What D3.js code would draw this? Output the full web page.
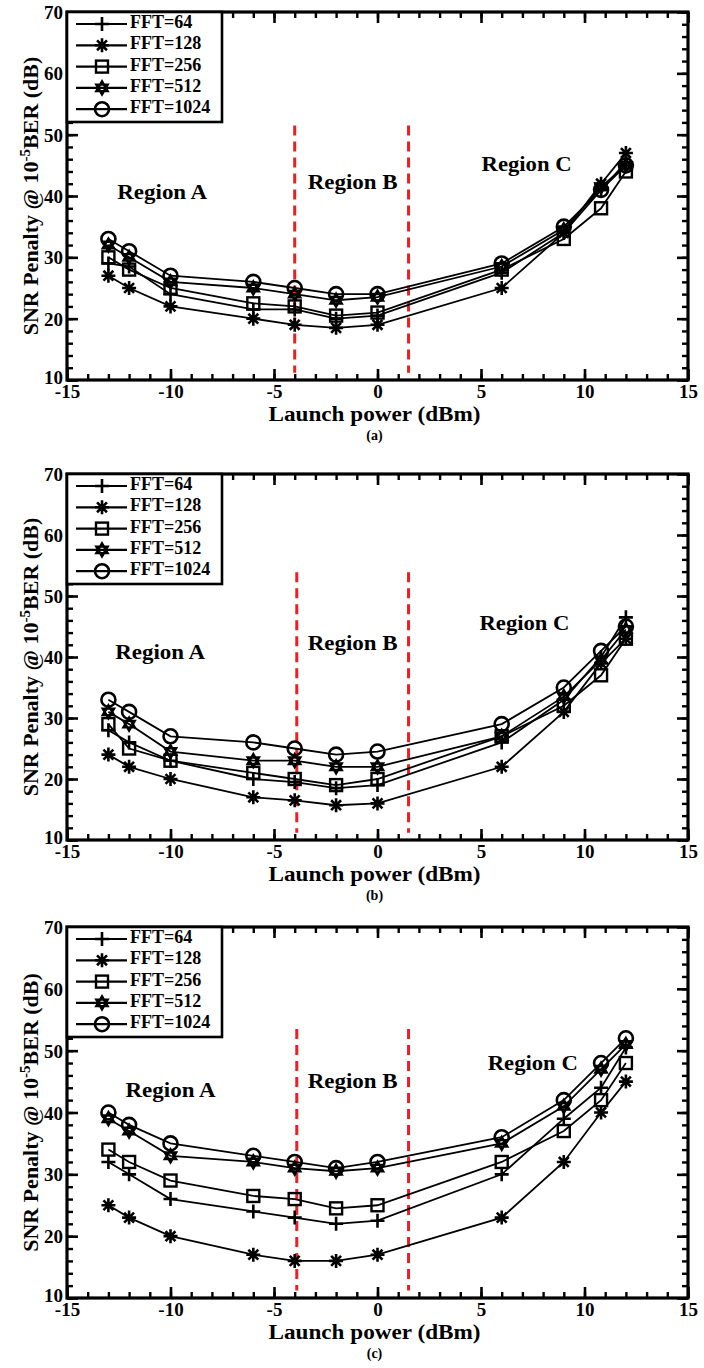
<!DOCTYPE html>
<html lang="en">
<head>
<meta charset="UTF-8">
<title>SNR penalty vs launch power</title>
<script src="https://cdn.jsdelivr.net/npm/d3@7"></script>
<style>
  body { margin: 0; background: #fff; }
  text { font-family: "Liberation Serif", "Times New Roman", serif; font-weight: bold; }
</style>
</head>
<body>
<div id="chart"></div>
<script>
// launch power points (dBm)
const xVals = [-13, -12, -10, -6, -4, -2, 0, 6, 9, 10.8, 12];
const seriesNames = ["FFT=64", "FFT=128", "FFT=256", "FFT=512", "FFT=1024"];
const xTicks = [-15, -10, -5, 0, 5, 10, 15];
const yTicks = [10, 20, 30, 40, 50, 60, 70];

// panel (a)
const a64   = [29, 28.5, 24, 21.5, 21.5, 20, 20.5, 27.5, 34, 41, 45.5];
const a128  = [27, 25, 22, 20, 19, 18.5, 19, 25, 34, 42, 47];
const a256  = [30, 28, 25, 22.5, 22, 20.5, 21, 28, 33, 38, 44];
const a512  = [32, 30, 26, 25, 24, 23, 23.5, 28.5, 34.5, 41.5, 45];
const a1024 = [33, 31, 27, 26, 25, 24, 24, 29, 35, 41, 45];
// panel (b)
const b64   = [28, 26, 23, 20, 19.5, 18.5, 19, 26, 33, 40, 46.5];
const b128  = [24, 22, 20, 17, 16.5, 15.7, 16, 22, 31, 39, 43];
const b256  = [29, 25, 23, 21, 20, 19, 20, 27, 32, 37, 43];
const b512  = [31, 29, 24.5, 23, 23, 22, 22, 27, 33.5, 39.5, 44.5];
const b1024 = [33, 31, 27, 26, 25, 24, 24.5, 29, 35, 41, 45];
// panel (c)
const c64   = [32, 30, 26, 24, 23, 22, 22.5, 30, 39, 44, 50.5];
const c128  = [25, 23, 20, 17, 16, 16, 17, 23, 32, 40, 45];
const c256  = [34, 32, 29, 26.5, 26, 24.5, 25, 32, 37, 42, 48];
const c512  = [39, 37, 33, 32, 31, 30.5, 31, 35, 41, 47, 51];
const c1024 = [40, 38, 35, 33, 32, 31, 32, 36, 42, 48, 52];

// region boundaries (dBm)
const boundsA = [-4, 1.5], boundsB = [-3.9, 1.5], boundsC = [-3.9, 1.5];

const W = 704, H = 1368;
const svg = d3.select("#chart").append("svg")
    .attr("width", W).attr("height", H);

const left = 67, right = 688;
const panels = [
    {top: 12, bottom: 380, series: [a64, a128, a256, a512, a1024], bounds: boundsA, dashTop: 51.5, cap: "(a)",
     regions: [[-10.4, 40.3], [-1.2, 42], [7.2, 44.9]]},
    {top: 474, bottom: 840, series: [b64, b128, b256, b512, b1024], bounds: boundsB, dashTop: 53.9, cap: "(b)",
     regions: [[-10.5, 40.4], [-1.2, 41.9], [7.1, 45.2]]},
    {top: 927, bottom: 1298, series: [c64, c128, c256, c512, c1024], bounds: boundsC, dashTop: 53.5, cap: "(c)",
     regions: [[-10.0, 43.3], [-1.2, 44.8], [7.5, 47.7]]}
];

// marker symbols
function marker(sel, k) {
    if (k == 0) {
        sel.append("path").attr("d", "M-7,0H7M0,-7V7")
            .attr("stroke", "#000").attr("stroke-width", 2.6).attr("fill", "none");
    } else if (k == 1) {
        let d = "";
        for (let i = 0; i < 4; i++) {
            let a = i * Math.PI / 4, r = 7;
            d += "M" + (-r * Math.cos(a)) + "," + (-r * Math.sin(a)) + "L" + (r * Math.cos(a)) + "," + (r * Math.sin(a));
        }
        sel.append("path").attr("d", d)
            .attr("stroke", "#000").attr("stroke-width", 2.6).attr("fill", "none");
    } else if (k == 2) {
        sel.append("rect").attr("x", -6).attr("y", -6).attr("width", 12).attr("height", 12)
            .attr("stroke", "#000").attr("stroke-width", 2.4).attr("fill", "none");
    } else if (k == 3) {
        let r = 6.5;
        let t1 = d3.range(3).map(i => [r * Math.sin(i * 2 * Math.PI / 3), -r * Math.cos(i * 2 * Math.PI / 3)]);
        let t2 = t1.map(p => [p[0], -p[1]]);
        sel.append("path").attr("d", "M" + t1.join("L") + "Z M" + t2.join("L") + "Z")
            .attr("stroke", "#000").attr("stroke-width", 2.4).attr("fill", "none");
    } else {
        sel.append("circle").attr("r", 7)
            .attr("stroke", "#000").attr("stroke-width", 2.6).attr("fill", "none");
    }
}

panels.forEach(function (p) {
    const x = d3.scaleLinear().domain([-15, 15]).range([left, right]);
    const y = d3.scaleLinear().domain([10, 70]).range([p.bottom, p.top]);
    const g = svg.append("g");

    // minor + major ticks on all four sides, pointing inward
    const minorX = d3.range(-15, 16, 1), minorY = d3.range(10, 71, 2);
    const axes = [
        [d3.axisBottom(x), "translate(0," + p.bottom + ")", true],
        [d3.axisTop(x), "translate(0," + p.top + ")", false],
        [d3.axisLeft(y), "translate(" + left + ",0)", true],
        [d3.axisRight(y), "translate(" + right + ",0)", false]
    ];
    axes.forEach(function (a, i) {
        const isX = i < 2;
        const minor = g.append("g").attr("transform", a[1])
            .call(a[0].tickValues(isX ? minorX : minorY).tickSize(-6).tickSizeOuter(0).tickFormat(""));
        minor.select(".domain").remove();
        minor.selectAll("line").attr("stroke-width", 2.4);
        const major = g.append("g").attr("transform", a[1])
            .call(a[0].tickValues(isX ? xTicks : yTicks).tickSize(-11).tickSizeOuter(0)
                .tickFormat(a[2] ? (d => String(d)) : ""));
        major.select(".domain").remove();
        major.selectAll("line").attr("stroke-width", 2.6);
        major.selectAll("text").attr("font-size", 19).attr("fill", "#000")
            .style("font-family", "'Liberation Serif', serif").style("font-weight", "bold");
        if (i == 0) major.selectAll("text").attr("dy", "0.71em").attr("y", 5);
        if (i == 2) major.selectAll("text").attr("x", -4).attr("dy", d => d == 10 ? "0.2em" : "0.35em");
    });
    g.append("rect").attr("x", left).attr("y", p.top)
        .attr("width", right - left).attr("height", p.bottom - p.top)
        .attr("fill", "none").attr("stroke", "#000").attr("stroke-width", 3.2);

    // region dividers
    p.bounds.forEach(function (b) {
        g.append("line")
            .attr("x1", x(b)).attr("x2", x(b))
            .attr("y1", y(p.dashTop)).attr("y2", y(11.2))
            .attr("stroke", "#f01e1e").attr("stroke-width", 3)
            .attr("stroke-dasharray", "10,6");
    });

    ["Region A", "Region B", "Region C"].forEach(function (t, i) {
        g.append("text").attr("x", x(p.regions[i][0])).attr("y", y(p.regions[i][1]))
            .attr("text-anchor", "middle").attr("dominant-baseline", "middle")
            .attr("font-size", 21).attr("textLength", 90).attr("lengthAdjust", "spacingAndGlyphs")
            .text(t);
    });

    // series lines and markers
    const line = d3.line().x(d => x(d[0])).y(d => y(d[1]));
    p.series.forEach(function (vals, k) {
        const pts = xVals.map((v, i) => [v, vals[i]]);
        g.append("path").attr("d", line(pts))
            .attr("fill", "none").attr("stroke", "#000").attr("stroke-width", 1.8);
        pts.forEach(function (pt) {
            const m = g.append("g").attr("transform", "translate(" + x(pt[0]) + "," + y(pt[1]) + ")");
            marker(m, k);
        });
    });

    // legend
    const lg = g.append("g");
    lg.append("rect").attr("x", left).attr("y", p.top)
        .attr("width", 155).attr("height", 110)
        .attr("fill", "#fff").attr("stroke", "#000").attr("stroke-width", 2.6);
    seriesNames.forEach(function (n, k) {
        const yy = p.top + 12 + k * 21.3;
        lg.append("line").attr("x1", left + 9).attr("x2", left + 60)
            .attr("y1", yy).attr("y2", yy).attr("stroke", "#000").attr("stroke-width", 2.2);
        marker(lg.append("g").attr("transform", "translate(" + (left + 35) + "," + yy + ")"), k);
        lg.append("text").attr("x", left + 63).attr("y", yy)
            .attr("dominant-baseline", "middle").attr("font-size", 18).text(n);
    });

    // axis titles
    g.append("text").attr("x", (left + right) / 2 - 3).attr("y", p.bottom + 41)
        .attr("text-anchor", "middle").attr("font-size", 20)
        .attr("textLength", 212).attr("lengthAdjust", "spacingAndGlyphs")
        .text("Launch power (dBm)");
    g.append("text").attr("x", (left + right) / 2 - 3).attr("y", p.bottom + 60)
        .attr("text-anchor", "middle").attr("font-size", 14).text(p.cap);

    const yl = g.append("text")
        .attr("transform", "translate(38," + ((p.top + p.bottom) / 2) + ") rotate(-90)")
        .attr("text-anchor", "middle").attr("font-size", 22);
    yl.append("tspan").text("SNR Penalty @ 10");
    yl.append("tspan").attr("dy", -8).attr("font-size", 15).text("-5");
    yl.append("tspan").attr("dy", 8).text("BER (dB)");
});
</script>
</body>
</html>
